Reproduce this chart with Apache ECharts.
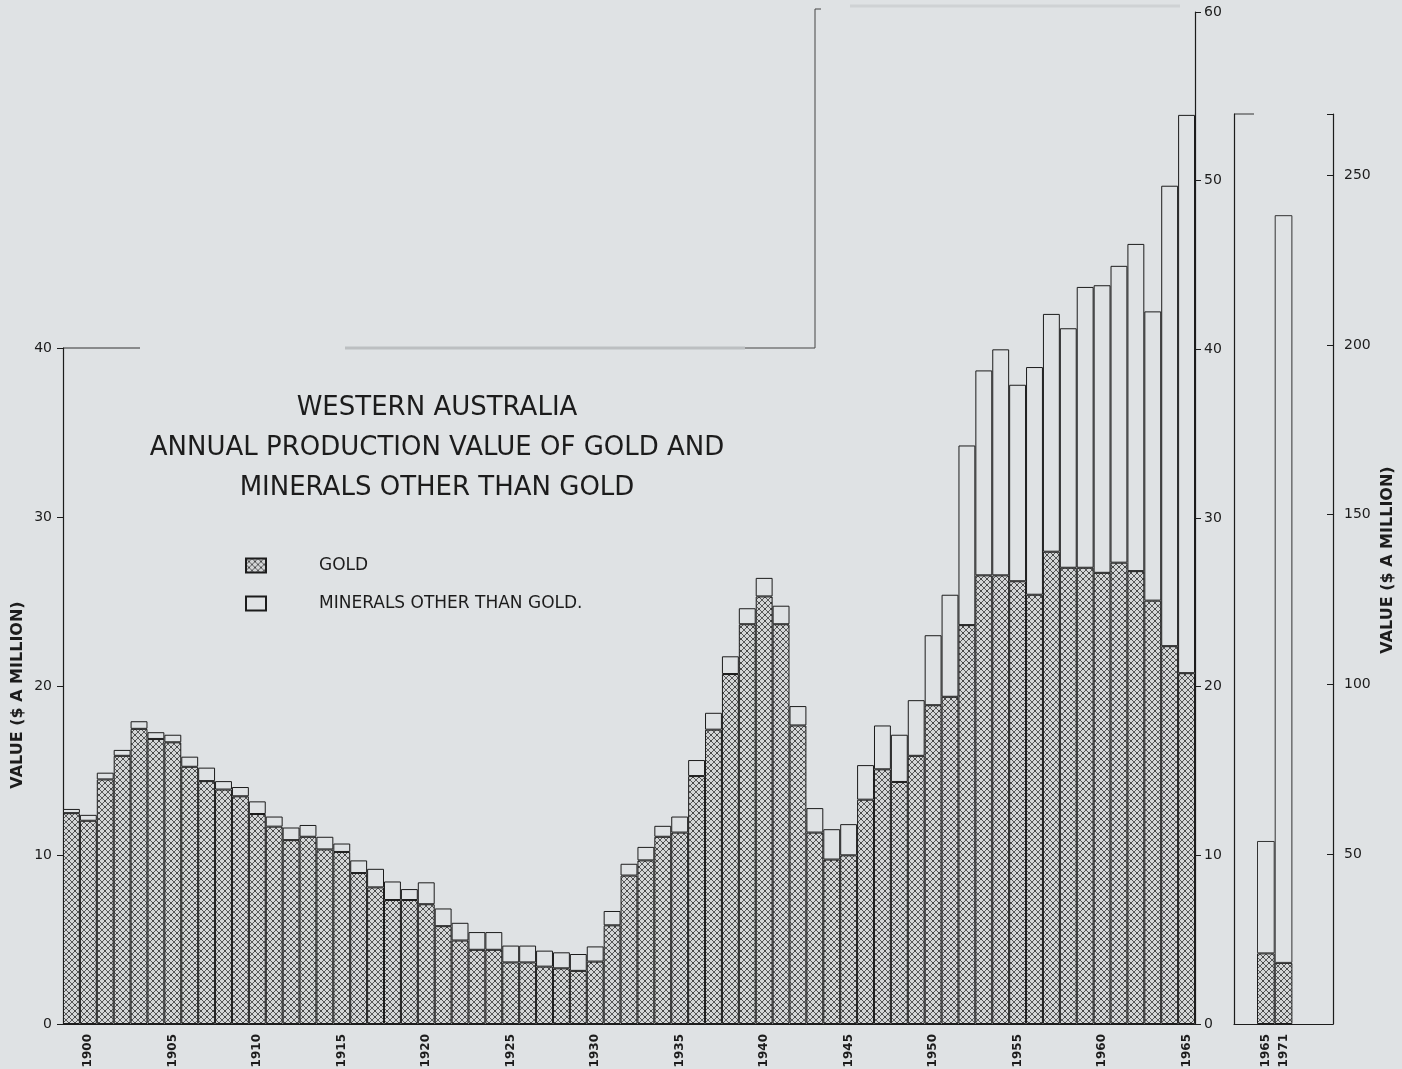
<!DOCTYPE html>
<html>
<head>
<meta charset="utf-8">
<title>Western Australia – Annual Production Value of Gold and Other Minerals</title>
<script src="https://cdn.jsdelivr.net/npm/echarts@6/dist/echarts.min.js"></script>
<style>
  html, body { margin: 0; padding: 0; background: #dfe2e4; }
  #chart { width: 1402px; height: 1069px; }
</style>
</head>
<body>
<div id="chart"></div>
<script>
// Annual production value, $A million, 1899–1965
const years = [];
for (let y = 1899; y <= 1965; y++) years.push(String(y));

const goldValues = [
  12.5, 12.05, 14.5, 15.9, 17.5, 16.9, 16.7, 15.25, 14.4, 13.9,
  13.5, 12.45, 11.7, 10.9, 11.1, 10.35, 10.2, 8.95, 8.1, 7.35,
  7.35, 7.1, 5.8, 4.95, 4.4, 4.4, 3.65, 3.65, 3.4, 3.3,
  3.15, 3.7, 5.85, 8.8, 9.7, 11.1, 11.35, 14.7, 17.45, 20.75,
  23.7, 25.35, 23.7, 17.7, 11.35, 9.75, 10.0, 13.3, 15.1, 14.35,
  15.9, 18.9, 19.4, 23.65, 26.6, 26.6, 26.25, 25.45, 28.0, 27.05,
  27.05, 26.75, 27.35, 26.85, 25.1, 22.4, 20.8
];

const otherValues = [
  0.25, 0.35, 0.4, 0.35, 0.45, 0.4, 0.45, 0.6, 0.8, 0.5,
  0.55, 0.75, 0.6, 0.75, 0.7, 0.75, 0.5, 0.75, 1.1, 1.1,
  0.65, 1.3, 1.05, 1.05, 1.05, 1.05, 1.0, 1.0, 0.95, 0.95,
  1.0, 0.9, 0.85, 0.7, 0.8, 0.65, 0.95, 0.95, 1.0, 1.05,
  0.95, 1.1, 1.1, 1.15, 1.45, 1.8, 1.85, 2.05, 2.6, 2.8,
  3.3, 4.15, 6.05, 10.65, 12.15, 13.4, 11.65, 13.5, 14.1, 14.2,
  16.65, 17.05, 17.6, 19.4, 17.15, 27.3, 33.1
];

// Comparison panel: 1965 against 1971
const laterYears = ['1965', '1971'];
const laterGold = [20.8, 18.0];
const laterOther = [33.1, 220.2];

// Tick values
const mainTicks = [0, 10, 20, 30, 40, 50, 60];
const leftTicks = [0, 10, 20, 30, 40];
const laterTicks = [50, 100, 150, 200, 250];

const BG = '#dfe2e4';
const INK = '#1c1c1c';

// Cross-hatch tile used for the gold bars
function hatchTile() {
  const c = document.createElement('canvas');
  const s = 6;
  c.width = s; c.height = s;
  const g = c.getContext('2d');
  g.fillStyle = '#d3d5d6';
  g.fillRect(0, 0, s, s);
  g.strokeStyle = '#4a4b4c';
  g.lineWidth = 0.9;
  g.beginPath();
  g.moveTo(0, 0); g.lineTo(s, s);
  g.moveTo(s, 0); g.lineTo(0, s);
  g.stroke();
  g.fillStyle = '#2a2a2a';
  g.fillRect(s / 2 - 0.6, s / 2 - 0.6, 1.2, 1.2);
  return c;
}
const hatch = { image: hatchTile(), repeat: 'repeat' };

// pad the comparison categories so both bars sit side by side in the middle
const laterCats = ['', laterYears[0], laterYears[1], '', ''];
const padL = (arr) => ['-', arr[0], arr[1], '-', '-'];

const GOLD = 'GOLD';
const OTHER = 'MINERALS OTHER THAN GOLD.';

const chart = echarts.init(document.getElementById('chart'), null, { renderer: 'canvas' });

const tickLabel = { color: INK, fontFamily: 'DejaVu Sans', fontSize: 14 };
const yearLabel = { color: INK, fontFamily: 'DejaVu Sans', fontSize: 12, fontWeight: 'bold' };

chart.setOption({
  backgroundColor: BG,
  animation: false,
  legend: {
    orient: 'vertical',
    left: 240,
    top: 552,
    icon: 'rect',
    itemWidth: 20,
    itemHeight: 14,
    itemGap: 21,
    data: [GOLD, OTHER],
    selectedMode: false,
    formatter: (n) => '{t|' + n + '}',
    textStyle: {
      color: INK,
      rich: { t: { fontFamily: 'DejaVu Sans', fontSize: 17, color: INK, padding: [0, 0, 0, 48] } }
    }
  },
  grid: [
    { left: 63, top: 12, width: 1132, height: 1012, outerBoundsMode: 'none' },
    { left: 63, top: 348, width: 76, height: 676, outerBoundsMode: 'none' },
    { left: 1234, top: 114, width: 99, height: 910, outerBoundsMode: 'none' },
    { left: 1239.3, top: 114, width: 88.5, height: 910, outerBoundsMode: 'none' }
  ],
  xAxis: [
    {
      gridIndex: 0, type: 'category', data: years,
      axisLine: { lineStyle: { color: INK, width: 1.2 } },
      axisTick: {
        length: 7, alignWithLabel: true, lineStyle: { color: INK },
        interval: (i, v) => Number(v) % 5 === 0
      },
      axisLabel: Object.assign({
        rotate: 90, margin: 10,
        interval: (i, v) => Number(v) % 5 === 0
      }, yearLabel)
    },
    { gridIndex: 1, type: 'value', min: 0, max: 1, show: false },
    {
      gridIndex: 2, type: 'value', min: 0, max: 1,
      axisLine: { show: true, lineStyle: { color: INK, width: 1.2 } },
      axisTick: { show: false }, axisLabel: { show: false }, splitLine: { show: false }
    },
    {
      gridIndex: 3, type: 'category', data: laterCats,
      axisLine: { show: false },
      axisTick: {
        length: 7, alignWithLabel: true, lineStyle: { color: INK },
        interval: (i, v) => v !== ''
      },
      axisLabel: Object.assign({ rotate: 90, margin: 10, interval: 0 }, yearLabel)
    }
  ],
  yAxis: [
    {
      gridIndex: 0, type: 'value', position: 'right',
      min: mainTicks[0], max: mainTicks[mainTicks.length - 1], interval: 10,
      axisLine: { show: true, lineStyle: { color: INK, width: 1.2 } },
      axisTick: { show: true, length: 6, lineStyle: { color: INK } },
      axisLabel: Object.assign({ margin: 9 }, tickLabel),
      splitLine: { show: false }
    },
    {
      gridIndex: 1, type: 'value', position: 'left',
      min: leftTicks[0], max: leftTicks[leftTicks.length - 1], interval: 10,
      axisLine: { show: true, lineStyle: { color: INK, width: 1.2 } },
      axisTick: { show: true, length: 6, lineStyle: { color: INK } },
      axisLabel: Object.assign({ margin: 11 }, tickLabel),
      splitLine: { show: false }
    },
    {
      gridIndex: 2, type: 'value', position: 'left', min: 0, max: 268,
      axisLine: { show: true, lineStyle: { color: INK, width: 1.2 } },
      axisTick: { show: false }, axisLabel: { show: false }, splitLine: { show: false }
    },
    {
      gridIndex: 2, type: 'value', position: 'right', min: 0, max: 268, interval: 50,
      axisLine: { show: true, lineStyle: { color: INK, width: 1.2 } },
      axisTick: { show: true, inside: true, length: 6, lineStyle: { color: INK } },
      axisLabel: Object.assign({
        margin: 11,
        formatter: (v) => laterTicks.indexOf(v) >= 0 ? String(v) : ''
      }, tickLabel),
      splitLine: { show: false }
    },
    { gridIndex: 3, type: 'value', min: 0, max: 268, show: false }
  ],
  series: [
    {
      name: GOLD, type: 'bar', stack: 'main', xAxisIndex: 0, yAxisIndex: 0,
      data: goldValues, barCategoryGap: '0%',
      itemStyle: { color: hatch, borderColor: INK, borderWidth: 1 }
    },
    {
      name: OTHER, type: 'bar', stack: 'main', xAxisIndex: 0, yAxisIndex: 0,
      data: otherValues, barCategoryGap: '0%',
      itemStyle: { color: BG, borderColor: INK, borderWidth: 1 }
    },
    {
      name: GOLD, type: 'bar', stack: 'later', xAxisIndex: 3, yAxisIndex: 4,
      data: padL(laterGold), barCategoryGap: '0%',
      itemStyle: { color: hatch, borderColor: INK, borderWidth: 1 }
    },
    {
      name: OTHER, type: 'bar', stack: 'later', xAxisIndex: 3, yAxisIndex: 4,
      data: padL(laterOther), barCategoryGap: '0%',
      itemStyle: { color: BG, borderColor: '#333', borderWidth: 1 }
    }
  ],
  graphic: [
    // heading
    {
      type: 'text', x: 437, y: 388, z: 10,
      style: {
        text: 'WESTERN AUSTRALIA\nANNUAL PRODUCTION VALUE OF GOLD AND\nMINERALS OTHER THAN GOLD',
        align: 'center', lineHeight: 40,
        fill: INK, font: '26px "DejaVu Sans"'
      }
    },
    // axis titles
    {
      type: 'text', x: 18, y: 695, rotation: Math.PI / 2,
      style: {
        text: 'VALUE ($ A MILLION)', align: 'center', verticalAlign: 'middle',
        fill: INK, font: 'bold 16px "DejaVu Sans"'
      }
    },
    {
      type: 'text', x: 1388, y: 560, rotation: Math.PI / 2,
      style: {
        text: 'VALUE ($ A MILLION)', align: 'center', verticalAlign: 'middle',
        fill: INK, font: 'bold 16px "DejaVu Sans"'
      }
    },
    // frame stubs of the drawing sheet
    { type: 'line', shape: { x1: 63, y1: 348, x2: 140, y2: 348 }, style: { stroke: '#333', lineWidth: 1 } },
    { type: 'line', shape: { x1: 345, y1: 348, x2: 745, y2: 348 }, style: { stroke: '#bcbfc1', lineWidth: 3 } },
    { type: 'line', shape: { x1: 745, y1: 348, x2: 815, y2: 348 }, style: { stroke: '#444', lineWidth: 1 } },
    { type: 'line', shape: { x1: 815, y1: 9, x2: 815, y2: 348 }, style: { stroke: '#444', lineWidth: 1 } },
    { type: 'line', shape: { x1: 815, y1: 9, x2: 821, y2: 9 }, style: { stroke: '#444', lineWidth: 1 } },
    { type: 'line', shape: { x1: 850, y1: 6, x2: 1180, y2: 6 }, style: { stroke: '#cfd2d4', lineWidth: 3 } },
    { type: 'line', shape: { x1: 1234, y1: 114, x2: 1254, y2: 114 }, style: { stroke: '#333', lineWidth: 1 } }
  ]
});
</script>
</body>
</html>
